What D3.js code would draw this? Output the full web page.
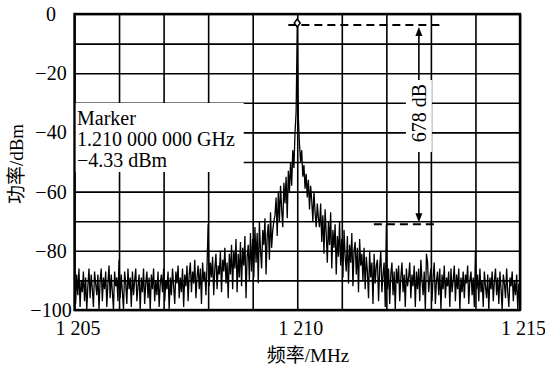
<!DOCTYPE html>
<html>
<head>
<meta charset="utf-8">
<script src="https://cdn.jsdelivr.net/npm/d3@7"></script>
<style>
  body { margin: 0; background: #fff; }
  text { font-family: "Liberation Serif", "Times New Roman", "DejaVu Serif", serif; fill: #000; }
</style>
</head>
<body>
<div id="vis"></div>
<script>
// frame size and plot margins
const WIDTH = 545;
const HEIGHT = 367;
const MARG = {left: 74.5, right: 25, top: 14, bottom: 57};
const VIS_WIDTH = WIDTH - MARG.left - MARG.right;
const VIS_HEIGHT = HEIGHT - MARG.top - MARG.bottom;
const SERIF = "'Liberation Serif', 'Times New Roman', 'DejaVu Serif', serif";

// frequency axis: 1205 .. 1215 MHz, one point every 0.025 MHz
const F_START = 1205;
const F_STEP = 0.025;
const xTicks = [1205, 1210, 1215];
const yTicks = [0, -20, -40, -60, -80, -100];

// trace (dBm), 20 points per 0.5 MHz
const power = [
  -91, -98, -88, -95, -86, -99, -90, -94, -87, -97, -89, -100, -92, -86, -96, -88, -93, -99, -87, -91,
  -95, -88, -100, -90, -86, -97, -89, -93, -87, -99, -91, -85, -96, -88, -94, -100, -87, -92, -89, -97,
  -83, -96, -88, -94, -100, -87, -91, -98, -86, -93, -89, -99, -87, -95, -90, -86, -97, -92, -88, -100,
  -89, -94, -86, -98, -91, -87, -96, -89, -100, -88, -93, -86, -97, -90, -95, -87, -99, -91, -88, -94,
  -86, -97, -90, -93, -87, -100, -89, -95, -86, -92, -98, -87, -91, -85, -96, -89, -94, -86, -99, -88,
  -92, -85, -97, -88, -84, -94, -87, -91, -83, -96, -89, -85, -93, -86, -98, -84, -90, -87, -95, -85,
  -71, -92, -84, -89, -82, -95, -86, -81, -93, -85, -88, -80, -94, -83, -87, -79, -91, -84, -96, -81,
  -88, -78, -93, -80, -86, -76, -94, -81, -89, -77, -92, -79, -85, -75, -96, -82, -78, -90, -74, -87,
  -76, -89, -72, -84, -74, -91, -70, -80, -86, -73, -78, -69, -88, -75, -71, -83, -67, -79, -73, -70,
  -68, -62, -75, -60, -70, -58, -66, -72, -57, -64, -55, -69, -53, -60, -50, -58, -46, -52, -40, -33,
  -4.33,
  -35, -44, -50, -46, -55, -51, -59, -54, -62, -56, -66, -58, -63, -70, -60, -67, -72, -64, -69,
  -72, -64, -77, -68, -81, -66, -74, -84, -70, -78, -67, -86, -73, -79, -71, -88, -75, -82, -70, -85,
  -76, -89, -73, -82, -87, -75, -91, -78, -84, -74, -92, -80, -77, -88, -79, -94, -76, -85, -81, -90,
  -79, -93, -82, -87, -96, -80, -89, -84, -98, -81, -91, -85, -83, -97, -86, -80, -94, -88, -84, -99,
  -71, -93, -86, -98, -88, -84, -95, -87, -100, -86, -91, -85, -97, -89, -84, -94, -88, -99, -86, -92,
  -89, -84, -96, -88, -92, -85, -99, -87, -93, -86, -97, -83, -90, -95, -87, -100, -81, -84, -94, -89,
  -86, -97, -89, -84, -98, -90, -87, -95, -86, -100, -88, -93, -85, -96, -89, -92, -87, -99, -86, -94,
  -90, -85, -97, -88, -93, -86, -100, -89, -94, -87, -96, -88, -91, -85, -98, -90, -87, -95, -89, -99,
  -80, -93, -88, -97, -86, -94, -90, -99, -87, -92, -96, -88, -100, -89, -93, -87, -97, -90, -86, -95,
  -89, -98, -87, -93, -100, -88, -91, -96, -86, -94, -99, -89, -92, -87, -97, -90, -95, -88, -100, -91, -93
];

// annotations
const peakFreq = 1210;
const refLevel = -3.7;      // upper dashed line
const spurFreq = 1212;
const spurLevel = -71;      // lower dashed line
const arrowFreq = 1212.73;
const deltaLabel = "678 dB";
const markerLines = ["Marker", "1.210 000 000 GHz", "\u22124.33 dBm"];

const svg = d3.select("#vis")
  .append("svg")
    .attr("width", WIDTH)
    .attr("height", HEIGHT);

const X_SCALE = d3.scaleLinear().domain([1205, 1215]).range([MARG.left, MARG.left + VIS_WIDTH]);
const Y_SCALE = d3.scaleLinear().domain([-100, 0]).range([MARG.top + VIS_HEIGHT, MARG.top]);

// grid lines
svg.append("g")
  .attr("transform", "translate(0," + (MARG.top + VIS_HEIGHT) + ")")
  .call(d3.axisBottom(X_SCALE).tickValues(d3.range(1205, 1216, 1)).tickSize(-VIS_HEIGHT).tickFormat(""))
  .call(g => g.select(".domain").remove())
  .selectAll("line").attr("stroke", "#000").attr("stroke-width", 1.6);
svg.append("g")
  .attr("transform", "translate(" + MARG.left + ",0)")
  .call(d3.axisLeft(Y_SCALE).tickValues(d3.range(-100, 1, 10)).tickSize(-VIS_WIDTH).tickFormat(""))
  .call(g => g.select(".domain").remove())
  .selectAll("line").attr("stroke", "#000").attr("stroke-width", 1.6);

// trace
svg.append("clipPath").attr("id", "clip")
  .append("rect")
    .attr("x", MARG.left).attr("y", MARG.top)
    .attr("width", VIS_WIDTH).attr("height", VIS_HEIGHT);

const line = d3.line()
  .x((d, i) => X_SCALE(F_START + i * F_STEP))
  .y(d => Y_SCALE(d));

svg.append("path")
  .datum(power)
  .attr("clip-path", "url(#clip)")
  .attr("fill", "none")
  .attr("stroke", "#000")
  .attr("stroke-width", 1.3)
  .attr("d", line);

// frame
svg.append("rect")
  .attr("x", MARG.left).attr("y", MARG.top)
  .attr("width", VIS_WIDTH).attr("height", VIS_HEIGHT)
  .attr("fill", "none").attr("stroke", "#000").attr("stroke-width", 2.4);

// tick labels
const xAxis = svg.append("g")
  .attr("transform", "translate(0," + (MARG.top + VIS_HEIGHT) + ")")
  .call(d3.axisBottom(X_SCALE).tickValues(xTicks).tickSize(0).tickPadding(11)
    .tickFormat(d => String(d).replace(/^(\d)(\d{3})$/, "$1 $2")));
xAxis.select(".domain").remove();
xAxis.attr("font-family", SERIF);
xAxis.selectAll("text").style("font-family", SERIF).attr("font-size", "20px").attr("dx", 3);

const yAxis = svg.append("g")
  .attr("transform", "translate(" + MARG.left + ",0)")
  .call(d3.axisLeft(Y_SCALE).tickValues(yTicks).tickSize(0));
yAxis.select(".domain").remove();
yAxis.attr("font-family", SERIF);
yAxis.selectAll("text")
  .style("font-family", SERIF).attr("font-size", "20px")
  .attr("text-anchor", "middle").attr("x", -23.5);

// axis titles
svg.append("text")
  .attr("x", 308).attr("y", 362)
  .attr("text-anchor", "middle").attr("font-size", "19px")
  .style("font-family", SERIF + ", 'Noto Sans CJK SC'")
  .text("频率/MHz");
svg.append("text")
  .attr("transform", "translate(23,164) rotate(-90)")
  .attr("text-anchor", "middle").attr("font-size", "19px")
  .style("font-family", SERIF + ", 'Noto Sans CJK SC'")
  .text("功率/dBm");

// marker box
svg.append("rect")
  .attr("x", MARG.left + 1.2).attr("y", 103)
  .attr("width", 168).attr("height", 69)
  .attr("fill", "#fff");
svg.append("g").selectAll("text")
  .data(markerLines)
  .enter().append("text")
    .attr("x", 77)
    .attr("y", (d, i) => 125 + i * 21)
    .attr("font-size", "20px")
    .style("font-family", SERIF)
    .text(d => d);

// dashed reference lines
svg.append("line")
  .attr("x1", X_SCALE(1209.8)).attr("x2", X_SCALE(1213.3))
  .attr("y1", Y_SCALE(refLevel)).attr("y2", Y_SCALE(refLevel))
  .attr("stroke", "#000").attr("stroke-width", 2).attr("stroke-dasharray", "8,5");
svg.append("line")
  .attr("x1", X_SCALE(spurFreq - 0.28)).attr("x2", X_SCALE(1213.14))
  .attr("y1", Y_SCALE(spurLevel)).attr("y2", Y_SCALE(spurLevel))
  .attr("stroke", "#000").attr("stroke-width", 2).attr("stroke-dasharray", "8,5");

// peak marker
const px = X_SCALE(peakFreq), py = Y_SCALE(refLevel) - 2;
svg.append("path")
  .attr("d", "M" + px + "," + (py - 4) + "L" + (px + 3) + "," + py + "L" + px + "," + (py + 4) + "L" + (px - 3) + "," + py + "Z")
  .attr("fill", "#fff").attr("stroke", "#000").attr("stroke-width", 1.5);

// double arrow
const ax = X_SCALE(arrowFreq);
const aTop = Y_SCALE(refLevel) + 2;
const aBot = Y_SCALE(spurLevel) - 2;
svg.append("line")
  .attr("x1", ax).attr("x2", ax).attr("y1", aTop + 6).attr("y2", aBot - 6)
  .attr("stroke", "#000").attr("stroke-width", 1.6);
svg.append("path")
  .attr("d", "M" + ax + "," + aTop + "L" + (ax - 3.5) + "," + (aTop + 9) + "L" + (ax + 3.5) + "," + (aTop + 9) + "Z")
  .attr("fill", "#000");
svg.append("path")
  .attr("d", "M" + ax + "," + aBot + "L" + (ax - 3.5) + "," + (aBot - 9) + "L" + (ax + 3.5) + "," + (aBot - 9) + "Z")
  .attr("fill", "#000");

// delta label with white background
svg.append("rect")
  .attr("x", ax - 13).attr("y", 80)
  .attr("width", 26).attr("height", 72)
  .attr("fill", "#fff");
svg.append("text")
  .attr("transform", "translate(" + (ax + 7) + ",113) rotate(-90)")
  .attr("text-anchor", "middle").attr("font-size", "20px")
  .style("font-family", SERIF)
  .text(deltaLabel);
</script>
</body>
</html>
